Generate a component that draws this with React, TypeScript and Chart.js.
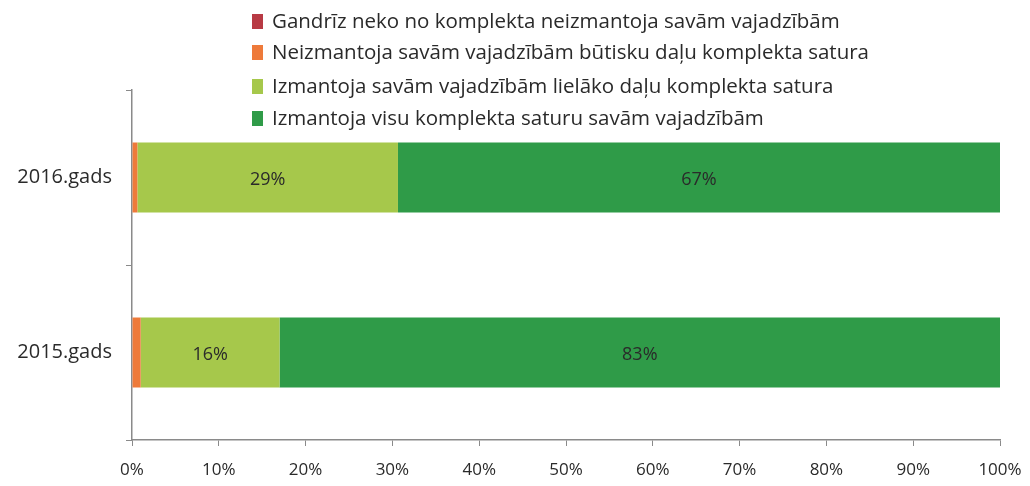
import { useEffect, useRef } from 'react';
import { Chart, registerables } from 'chart.js';

Chart.register(...registerables);

const categories = ['2016.gads', '2015.gads'];
const seriesNames = [
  'Gandrīz neko no komplekta neizmantoja savām vajadzībām',
  'Neizmantoja savām vajadzībām būtisku daļu komplekta satura',
  'Izmantoja savām vajadzībām lielāko daļu komplekta satura',
  'Izmantoja visu komplekta saturu savām vajadzībām',
];
const seriesColors = ['#B83A44', '#EE7A3A', '#A6C84B', '#2F9B48'];
const nearlyNothing = [0, 0];
const notMuch = [0.6, 1];
const mostPart = [29, 16];
const everything = [67, 83];
const xTicks = [0, 10, 20, 30, 40, 50, 60, 70, 80, 90, 100];
const labelledSeries = [2, 3];

const FONT = '"Open Sans", sans-serif';
const TEXT = '#2a2a2a';

export default function App() {
  const ref = useRef<HTMLCanvasElement | null>(null);

  useEffect(() => {
    const raw = [nearlyNothing, notMuch, mostPart, everything];
    const totals = categories.map((_, i) => raw.reduce((s, a) => s + a[i], 0));
    const datasets = raw.map((vals, k) => ({
      label: seriesNames[k],
      data: vals.map((v, i) => (v / totals[i]) * 100),
      rawValues: vals,
      backgroundColor: seriesColors[k],
      borderWidth: 0,
      categoryPercentage: 1,
      barPercentage: 0.4,
    }));

    const labelPlugin = {
      id: 'segLabels',
      afterDatasetsDraw(chart: any) {
        const ctx = chart.ctx;
        ctx.save();
        ctx.font = `18px ${FONT}`;
        ctx.fillStyle = TEXT;
        ctx.textAlign = 'center';
        ctx.textBaseline = 'middle';
        labelledSeries.forEach((di) => {
          const meta = chart.getDatasetMeta(di);
          meta.data.forEach((el: any, i: number) => {
            const v = (chart.data.datasets[di] as any).rawValues[i];
            ctx.fillText(`${v}%`, (el.x + el.base) / 2, el.y + 2);
          });
        });
        ctx.restore();
      },
    };

    const legendPlugin = {
      id: 'vertLegend',
      afterDraw(chart: any) {
        const ctx = chart.ctx;
        ctx.save();
        ctx.font = `20.5px ${FONT}`;
        ctx.textBaseline = 'middle';
        ctx.textAlign = 'left';
        const x0 = 244;
        const ys = [13, 44, 78, 110];
        chart.data.datasets.forEach((ds: any, i: number) => {
          const y = ys[i];
          ctx.fillStyle = ds.backgroundColor;
          ctx.fillRect(x0, y - 7, 11, 15);
          ctx.fillStyle = TEXT;
          ctx.fillText(ds.label, x0 + 20, y + 1);
        });
        ctx.restore();
      },
    };

    const chart = new Chart(ref.current as HTMLCanvasElement, {
      type: 'bar',
      data: { labels: categories, datasets: datasets as any },
      options: {
        indexAxis: 'y',
        animation: false,
        responsive: true,
        maintainAspectRatio: false,
        layout: { padding: { top: 82, right: 22, left: 0, bottom: 0 } },
        plugins: {
          legend: { display: false },
          tooltip: { enabled: false },
        },
        scales: {
          x: {
            stacked: true,
            min: 0,
            max: 100,
            afterBuildTicks: (s: any) => {
              s.ticks = xTicks.map((v) => ({ value: v }));
            },
            afterFit: (s: any) => {
              s.height = 38;
              s.paddingRight = 0;
              s.paddingLeft = 0;
            },
            border: { display: true, color: '#8a8a8a', width: 1.5 },
            grid: {
              display: true,
              drawOnChartArea: false,
              drawTicks: true,
              tickLength: 6,
              color: '#8a8a8a',
            },
            ticks: {
              padding: 14,
              color: TEXT,
              font: { family: FONT, size: 17 },
              callback: (v: any) => `${v}%`,
            },
          },
          y: {
            stacked: true,
            afterFit: (s: any) => {
              s.width = 124;
            },
            border: { display: true, color: '#8a8a8a', width: 1.5 },
            grid: {
              display: true,
              offset: true,
              drawOnChartArea: false,
              drawTicks: true,
              tickLength: 6,
              color: '#8a8a8a',
            },
            ticks: {
              padding: 14,
              color: TEXT,
              font: { family: FONT, size: 20 },
            },
          },
        },
      },
      plugins: [labelPlugin, legendPlugin],
    });
    return () => chart.destroy();
  }, []);

  return (
    <div style={{ width: 1014, height: 470, position: 'relative' }}>
      <canvas ref={ref} />
    </div>
  );
}
